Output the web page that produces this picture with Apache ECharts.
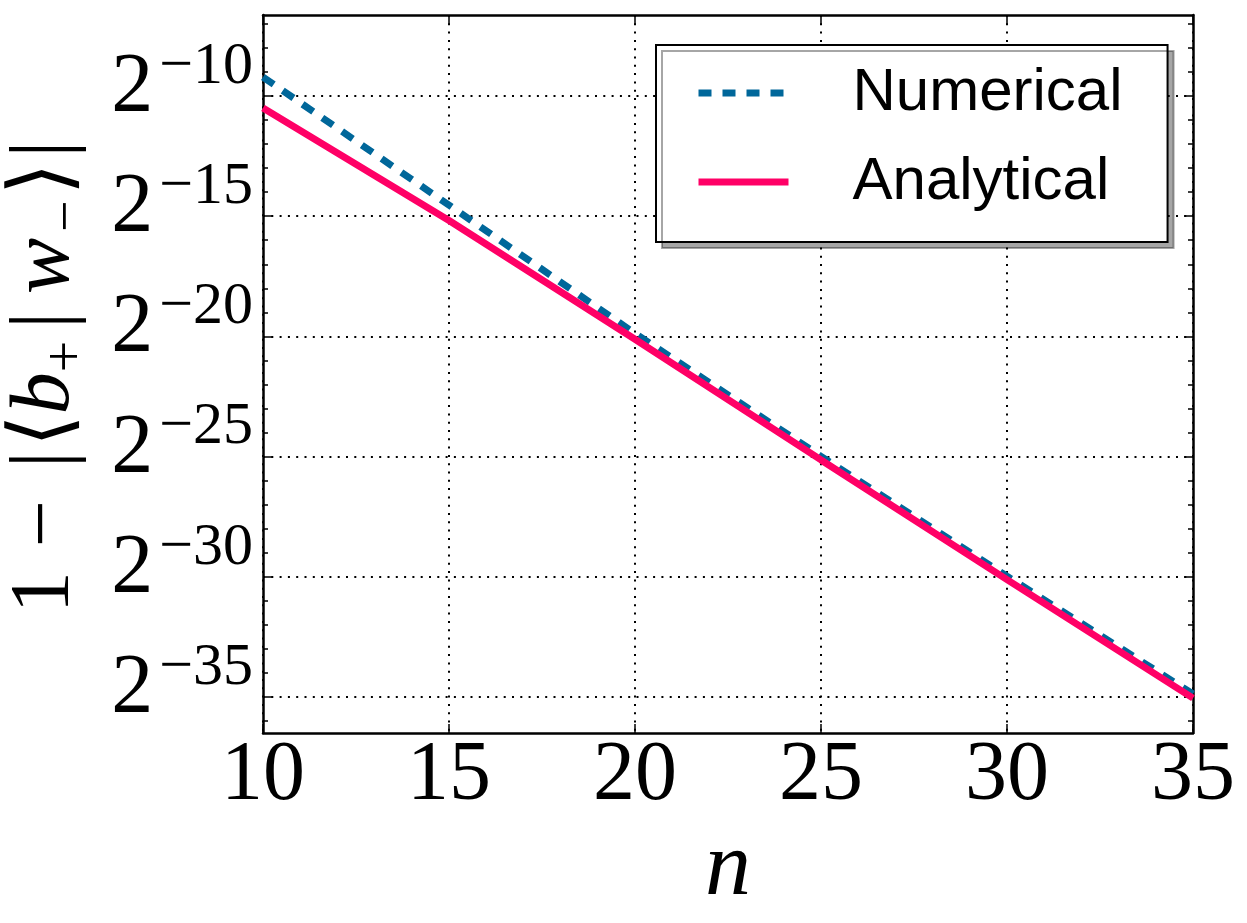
<!DOCTYPE html>
<html>
<head>
<meta charset="utf-8">
<script src="https://cdn.jsdelivr.net/npm/echarts@6/dist/echarts.min.js"></script>
<style>
html, body { margin: 0; background: #fff; }
#chart { width: 1247px; height: 923px; }
</style>
</head>
<body>
<div id="chart"></div>
<script>
// y values are log2 of 1 - |<b+|w->|
var nValues = [10, 15, 20, 25, 30, 35];
var numericalExp = [-9.21, -14.54, -19.88, -24.99, -29.98, -34.88];
var analyticalExp = [-10.5, -15.18, -20.12, -25.14, -30.12, -35.05];

var yMajorTicks = [-35, -30, -25, -20, -15, -10];
var yMinorTicks = [-36, -35, -34, -33, -32, -31, -30, -29, -28, -27, -26, -25, -24, -23, -22,
                   -21, -20, -19, -18, -17, -16, -15, -14, -13, -12, -11, -10, -9, -8, -7];
var yMin = -36.5, yMax = -6.63;

var serif = "'Liberation Serif', 'DejaVu Serif', serif";
var sans = "'Liberation Sans', Arial, sans-serif";
var dotted = { color: '#000', width: 2, type: [2, 6.3] };
var frame = { show: true, onZero: false, lineStyle: { color: '#000', width: 2.5 } };

function pairs(xs, ys) {
    var out = [];
    for (var i = 0; i < xs.length; i++) out.push([xs[i], ys[i]]);
    return out;
}

function yAxisOf(pos, ticks, len, showLine, withLabels) {
    return {
        type: 'value', min: yMin, max: yMax, position: pos,
        axisLine: showLine ? frame : { show: false },
        axisTick: { show: true, inside: true, length: len, customValues: ticks,
                    lineStyle: { color: '#000', width: 1.5 } },
        axisLabel: withLabels ? {
            show: true, margin: 10, customValues: yMajorTicks,
            formatter: function (v) { return '{b|2}{s|\u2212' + Math.abs(v) + '}'; },
            rich: {
                b: { fontFamily: serif, fontSize: 84, color: '#000', lineHeight: 84,
                     padding: [0, 0, 14, 0] },
                s: { fontFamily: serif, fontSize: 60, color: '#000', lineHeight: 60,
                     padding: [0, 0, 58, 6] }
            }
        } : { show: false },
        splitLine: { show: false }
    };
}

function tok(size, italic, pad) {
    return { fontFamily: serif, fontSize: size, fontStyle: italic ? 'italic' : 'normal',
             color: '#000', lineHeight: size >= 80 ? 100 : 50,
             verticalAlign: size >= 80 ? 'middle' : 'bottom', padding: pad };
}

var myChart = echarts.init(document.getElementById('chart'));
var option = {
    animation: false,
    backgroundColor: '#fff',
    grid: { left: 263, top: 15, width: 930, height: 718 },
    legend: {
        left: 656, top: 45, orient: 'vertical',
        itemWidth: 90, itemHeight: 20, itemGap: 29,
        padding: [18, 45, 30, 39],
        backgroundColor: '#fff', borderColor: '#000', borderWidth: 2, borderRadius: 0,
        shadowColor: 'rgba(0,0,0,0.35)', shadowOffsetX: 6, shadowOffsetY: 6, shadowBlur: 0,
        itemStyle: { opacity: 0 },
        lineStyle: { width: 7 },
        textStyle: { fontFamily: sans, fontSize: 60, color: '#000', lineHeight: 60, padding: [0, 0, 0, 59] },
        data: ['Numerical', 'Analytical']
    },
    xAxis: [
        {
            type: 'value', min: 10, max: 35, interval: 5, position: 'bottom',
            axisLine: frame,
            axisTick: { inside: true, length: 9, lineStyle: { color: '#000', width: 1.5 } },
            axisLabel: { margin: 2, fontFamily: serif, fontSize: 84, color: '#000' },
            splitLine: { show: true, lineStyle: dotted },
            name: 'n', nameLocation: 'middle', nameGap: 80,
            nameTextStyle: { fontFamily: serif, fontStyle: 'italic', fontSize: 92, color: '#000' }
        },
        {
            type: 'value', min: 10, max: 35, interval: 5, position: 'top',
            axisLine: frame,
            axisTick: { inside: true, length: 9, lineStyle: { color: '#000', width: 1.5 } },
            axisLabel: { show: false },
            splitLine: { show: false }
        }
    ],
    yAxis: [
        yAxisOf('left', yMajorTicks, 9, true, true),
        yAxisOf('right', yMajorTicks, 9, true, false),
        yAxisOf('left', yMinorTicks, 5, false, false),
        yAxisOf('right', yMinorTicks, 5, false, false)
    ],
    graphic: [{
        type: 'text', x: 46, y: 377, rotation: Math.PI / 2,
        style: {
            text: '{a|1}{op|\u2212}{b1||}{la|\u27E8}{bi|b}{sp|+}{b2||}{wi|w}{sm|\u2212}{ra|\u27E9}{b3||}',
            align: 'center', verticalAlign: 'middle',
            rich: {
                a: tok(84, false, [0, 12, 0, 0]),
                op: tok(84, false, [0, 16, 0, 12]),
                b1: tok(84, false, [0, 2, 0, 16]),
                la: tok(84, false, [0, 0, 0, 2]),
                bi: tok(84, true, [0, 0, 0, 0]),
                sp: tok(56, false, [0, 6, 0, 0]),
                b2: tok(84, false, [0, 9, 0, 6]),
                wi: tok(84, true, [0, 3, 0, 9]),
                sm: tok(56, false, [0, 3, 0, 3]),
                ra: tok(84, false, [0, 3, 0, 2]),
                b3: tok(84, false, [0, 0, 0, 2])
            }
        }
    }],
    series: [
        {
            name: 'Numerical', type: 'line', symbol: 'none',
            data: pairs(nValues, numericalExp),
            lineStyle: { color: '#00679a', width: 7, type: [13, 11] },
            itemStyle: { color: '#00679a' },
            markLine: {
                silent: true, symbol: 'none', z: 1,
                label: { show: false },
                lineStyle: dotted,
                data: yMajorTicks.map(function (v) { return { yAxis: v }; })
            }
        },
        {
            name: 'Analytical', type: 'line', symbol: 'none',
            data: pairs(nValues, analyticalExp),
            lineStyle: { color: '#ff0066', width: 7 },
            itemStyle: { color: '#ff0066' }
        }
    ]
};
myChart.setOption(option);
window.addEventListener('resize', function () { myChart.resize(); });
</script>
</body>
</html>
